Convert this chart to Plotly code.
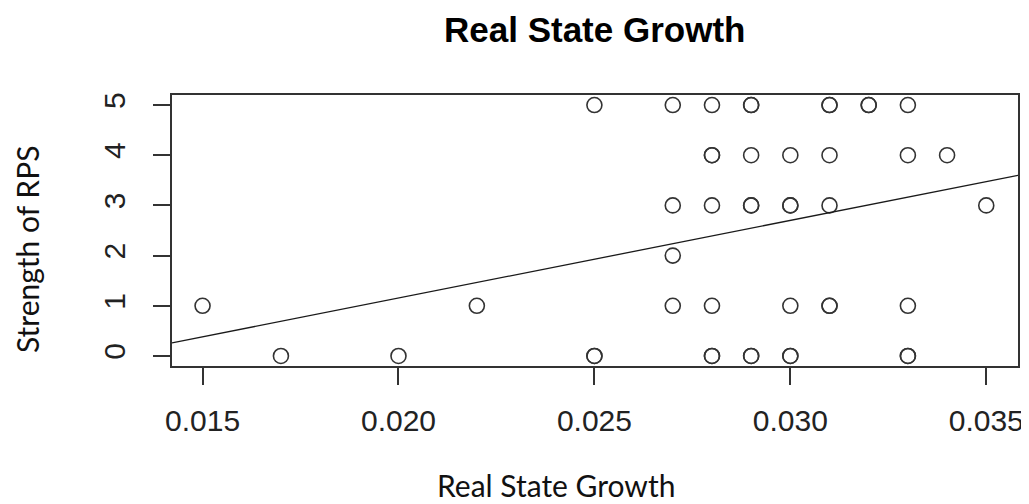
import plotly.graph_objects as go

# Data (duplicates appear as darker circles)
growth = [0.015, 0.017, 0.020, 0.022, 0.025, 0.025, 0.025,
          0.027, 0.027, 0.027, 0.027,
          0.028, 0.028, 0.028, 0.028, 0.028, 0.028, 0.028,
          0.029, 0.029, 0.029, 0.029, 0.029, 0.029, 0.029,
          0.030, 0.030, 0.030, 0.030, 0.030, 0.030,
          0.031, 0.031, 0.031, 0.031, 0.031, 0.031,
          0.032, 0.032,
          0.033, 0.033, 0.033, 0.033, 0.033,
          0.034, 0.035]
rps = [1, 0, 0, 1, 5, 0, 0,
       5, 3, 2, 1,
       5, 4, 4, 3, 1, 0, 0,
       5, 5, 4, 3, 3, 0, 0,
       4, 3, 3, 1, 0, 0,
       5, 5, 4, 3, 1, 1,
       5, 5,
       5, 4, 1, 0, 0,
       4, 3]

# Fitted regression line
fit_intercept = -1.94
fit_slope = 154.7

x_range = [0.01422, 0.03581]
y_range = [-0.2, 5.2]
x_ticks = [0.015, 0.020, 0.025, 0.030, 0.035]
x_ticklabels = ["0.015", "0.020", "0.025", "0.030", "0.035"]
y_ticks = [0, 1, 2, 3, 4, 5]

title_text = "Real State Growth"
x_title = "Real State Growth"
y_title = "Strength of RPS"

fig = go.Figure()
fig.add_trace(go.Scatter(
    x=growth, y=rps, mode="markers",
    marker=dict(symbol="circle-open", size=15, color="#333333",
                line=dict(width=1.6, color="#333333")),
    showlegend=False, hoverinfo="x+y"))

line_x = list(x_range)
line_y = [fit_intercept + fit_slope * v for v in line_x]
fig.add_trace(go.Scatter(
    x=line_x, y=line_y, mode="lines",
    line=dict(color="#1a1a1a", width=1.3),
    showlegend=False, hoverinfo="skip"))

tick_font = dict(family="Liberation Sans, Arial, sans-serif", size=30, color="#222222")

# The page body has an 8px margin, so the figure sits 8px right/down in the window.
OFF = 8
W, H = 1029, 504
box_left, box_right, box_top, box_bottom = 172, 1018, 95, 366  # window pixels
ML = box_left - OFF
MT = box_top - OFF
MR = W - (box_right - OFF)
MB = H - (box_bottom - OFF)
plot_w = W - ML - MR
plot_h = H - MT - MB

def px_to_paper_x(px):
    return (px - OFF - ML) / plot_w

def px_to_paper_y(py):
    return (H - MB - (py - OFF)) / plot_h

fig.update_layout(
    width=W, height=H, autosize=False,
    margin=dict(l=ML, r=MR, t=MT, b=MB, autoexpand=False),
    paper_bgcolor="white", plot_bgcolor="white",
    xaxis=dict(range=x_range, tickvals=x_ticks, ticktext=x_ticklabels,
               showgrid=False, zeroline=False, automargin=False,
               showline=True, mirror=True, linecolor="#333333", linewidth=1.6,
               ticks="outside", ticklen=17, tickwidth=1.6, tickcolor="#333333",
               tickfont=tick_font, ticklabelstandoff=10),
    yaxis=dict(range=y_range, tickvals=y_ticks,
               showgrid=False, zeroline=False, automargin=False,
               showline=True, mirror=True, linecolor="#333333", linewidth=1.6,
               ticks="outside", ticklen=17, tickwidth=1.6, tickcolor="#333333",
               tickfont=tick_font, tickangle=-90, ticklabelstandoff=16),
    annotations=[
        dict(text="<b>" + title_text + "</b>",
             x=px_to_paper_x(594), y=px_to_paper_y(30), xref="paper", yref="paper",
             xanchor="center", yanchor="middle", showarrow=False,
             font=dict(family="Liberation Sans, Arial, sans-serif", size=35, color="#000000")),
        dict(text=x_title,
             x=px_to_paper_x(556), y=px_to_paper_y(485), xref="paper", yref="paper",
             xanchor="center", yanchor="middle", showarrow=False,
             font=dict(family="Lato, sans-serif", size=30, color="#111111")),
        dict(text=y_title, textangle=-90,
             x=px_to_paper_x(27), y=px_to_paper_y(250), xref="paper", yref="paper",
             xanchor="center", yanchor="middle", showarrow=False,
             font=dict(family="Lato, sans-serif", size=30, color="#111111")),
    ],
)

fig.write_html("out.html")
